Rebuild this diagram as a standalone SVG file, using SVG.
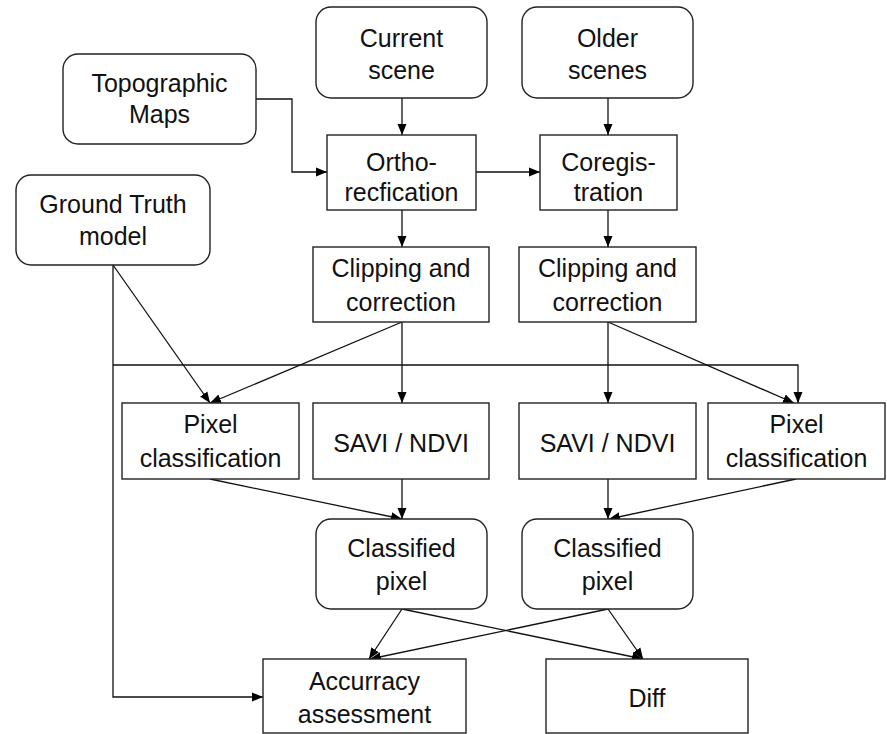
<svg xmlns="http://www.w3.org/2000/svg" width="887" height="734" viewBox="0 0 887 734">
<defs>
<marker id="ah" markerUnits="userSpaceOnUse" markerWidth="12" markerHeight="10" refX="11" refY="5" orient="auto">
<path d="M0,0.5 L11,5 L0,9.5 z" fill="#000"/>
</marker>
<style>
.box{fill:#fff;stroke:#222;stroke-width:1.4}
.t{font-family:"Liberation Sans",Arial,sans-serif;font-size:25px;fill:#111;text-anchor:middle}
.c{fill:none;stroke:#111;stroke-width:1.3}
.a{marker-end:url(#ah)}
</style>
</defs>
<rect width="887" height="734" fill="#fff"/>
<g id="connectors">
<path class="c a" d="M256,99 H292 V172 H327"/>
<path class="c a" d="M402,98 V135"/>
<path class="c a" d="M608,98 V135"/>
<path class="c a" d="M476,172 H540"/>
<path class="c a" d="M402,210 V247"/>
<path class="c a" d="M608,210 V247"/>
<path class="c a" d="M113,265 L210,403"/>
<path class="c a" d="M113,265 V697 H263"/>
<path class="c a" d="M113,365 H798 V403"/>
<path class="c a" d="M402,322 L210,403"/>
<path class="c a" d="M402,322 V403"/>
<path class="c a" d="M608,322 V403"/>
<path class="c a" d="M608,322 L794,403"/>
<path class="c a" d="M210,479 L402,519"/>
<path class="c a" d="M402,479 V519"/>
<path class="c a" d="M608,479 V519"/>
<path class="c a" d="M796,479 L609,519"/>
<path class="c a" d="M402,609 L369,659"/>
<path class="c a" d="M402,609 L643,659"/>
<path class="c a" d="M608,609 L370,659"/>
<path class="c a" d="M608,609 L643,659"/>
</g>
<g id="current-scene"><rect class="box" x="316" y="7" width="171" height="91" rx="15"/><text class="t" x="401.5" y="47">Current</text><text class="t" x="401.5" y="79">scene</text></g>
<g id="older-scenes"><rect class="box" x="522" y="7" width="171" height="91" rx="15"/><text class="t" x="607.5" y="47">Older</text><text class="t" x="607.5" y="79">scenes</text></g>
<g id="topographic-maps"><rect class="box" x="63" y="54" width="193" height="90" rx="15"/><text class="t" x="159.5" y="92">Topographic</text><text class="t" x="159.5" y="123">Maps</text></g>
<g id="ground-truth"><rect class="box" x="16" y="175" width="194" height="90" rx="15"/><text class="t" x="113" y="213">Ground Truth</text><text class="t" x="113" y="245">model</text></g>
<g id="ortho"><rect class="box" x="327" y="135" width="149" height="75"/><text class="t" x="401.5" y="171">Ortho-</text><text class="t" x="401.5" y="201">recfication</text></g>
<g id="coreg"><rect class="box" x="540" y="135" width="137" height="75"/><text class="t" x="608.5" y="171">Coregis-</text><text class="t" x="608.5" y="201">tration</text></g>
<g id="clip-left"><rect class="box" x="313" y="247" width="176" height="75"/><text class="t" x="401" y="277">Clipping and</text><text class="t" x="401" y="311">correction</text></g>
<g id="clip-right"><rect class="box" x="519" y="247" width="177" height="75"/><text class="t" x="607.5" y="277">Clipping and</text><text class="t" x="607.5" y="311">correction</text></g>
<g id="pixel-left"><rect class="box" x="122" y="403" width="177" height="76"/><text class="t" x="210.5" y="433">Pixel</text><text class="t" x="210.5" y="467">classification</text></g>
<g id="savi-left"><rect class="box" x="313" y="403" width="176" height="76"/><text class="t" x="401" y="452">SAVI / NDVI</text></g>
<g id="savi-right"><rect class="box" x="519" y="403" width="177" height="76"/><text class="t" x="607.5" y="452">SAVI / NDVI</text></g>
<g id="pixel-right"><rect class="box" x="708" y="403" width="177" height="76"/><text class="t" x="796.5" y="433">Pixel</text><text class="t" x="796.5" y="467">classification</text></g>
<g id="classified-left"><rect class="box" x="316" y="519" width="171" height="90" rx="15"/><text class="t" x="401.5" y="557">Classified</text><text class="t" x="401.5" y="590">pixel</text></g>
<g id="classified-right"><rect class="box" x="522" y="519" width="171" height="90" rx="15"/><text class="t" x="607.5" y="557">Classified</text><text class="t" x="607.5" y="590">pixel</text></g>
<g id="accuracy"><rect class="box" x="263" y="659" width="203" height="74"/><text class="t" x="364.5" y="690">Accurracy</text><text class="t" x="364.5" y="723">assessment</text></g>
<g id="diff"><rect class="box" x="546" y="659" width="202" height="74"/><text class="t" x="647" y="707">Diff</text></g>
</svg>
